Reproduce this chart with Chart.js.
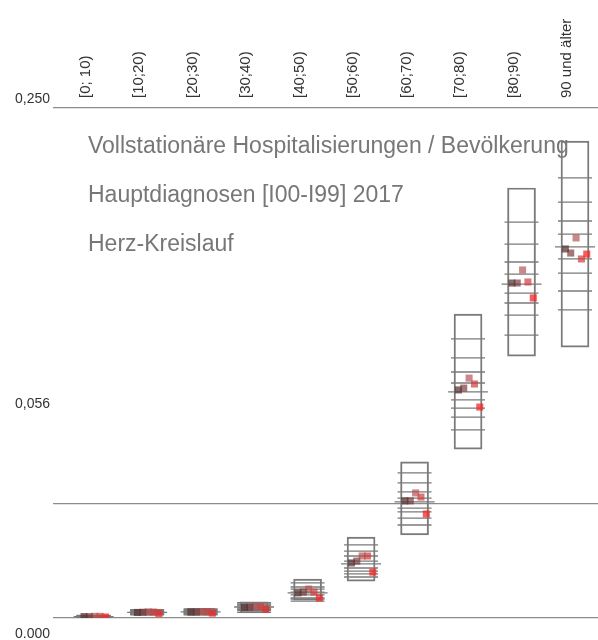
<!DOCTYPE html>
<html>
<head>
<meta charset="utf-8">
<script src="https://cdn.jsdelivr.net/npm/chart.js@4.4.1/dist/chart.umd.min.js"></script>
<style>
  html, body { margin: 0; padding: 0; background: #fff; overflow: hidden; }
  #wrap { width: 598px; height: 640px; position: relative; }
  #chart { display: block; }
</style>
</head>
<body>
<div id="wrap"><canvas id="chart"></canvas></div>
<script>
// Altersgruppen (Kategorien)
const kategorien = ['[0; 10)', '[10;20)', '[20;30)', '[30;40)', '[40;50)', '[50;60)', '[60;70)', '[70;80)', '[80;90)', '90 und älter'];

// Kasten: unterer und oberer Rand je Altersgruppe
const boxUnten = [0.0002, 0.0014, 0.0014, 0.0025, 0.0088, 0.0181, 0.0407, 0.0828, 0.1284, 0.1328];
const boxOben  = [0.0014, 0.0044, 0.0048, 0.0079, 0.0191, 0.0397, 0.0765, 0.1490, 0.2108, 0.2338];

// Querstriche im Kasten (9 je Altersgruppe)
const linienJeGruppe = [
    [0.0013, 0.0011, 0.0010, 0.0009, 0.0007, 0.0006, 0.0005, 0.0004, 0.0003],
    [0.0041, 0.0037, 0.0034, 0.0031, 0.0028, 0.0025, 0.0022, 0.0019, 0.0016],
    [0.0045, 0.0041, 0.0037, 0.0033, 0.0030, 0.0027, 0.0024, 0.0020, 0.0016],
    [0.0075, 0.0069, 0.0064, 0.0059, 0.0054, 0.0049, 0.0043, 0.0036, 0.0028],
    [0.0172, 0.0152, 0.0142, 0.0127, 0.0123, 0.0113, 0.0098, 0.0093, 0.0083],
    [0.0358, 0.0328, 0.0304, 0.0279, 0.0265, 0.0245, 0.0230, 0.0216, 0.0201],
    [0.0711, 0.0662, 0.0618, 0.0588, 0.0569, 0.0539, 0.0520, 0.0490, 0.0456],
    [0.1368, 0.1275, 0.1206, 0.1152, 0.1108, 0.1069, 0.1029, 0.0985, 0.0922],
    [0.1941, 0.1833, 0.1745, 0.1686, 0.1637, 0.1593, 0.1544, 0.1485, 0.1387],
    [0.2157, 0.2039, 0.1946, 0.1882, 0.1819, 0.1760, 0.1691, 0.1603, 0.1510]
];

// Punkte (5 Reihen, dunkel -> rot)
const reihe1 = [0.0007, 0.0027, 0.0029, 0.0052, 0.0123, 0.0270, 0.0574, 0.1118, 0.1642, 0.1809];
const reihe2 = [0.0007, 0.0028, 0.0029, 0.0053, 0.0127, 0.0279, 0.0574, 0.1127, 0.1642, 0.1789];
const reihe3 = [0.0008, 0.0030, 0.0031, 0.0056, 0.0142, 0.0304, 0.0613, 0.1176, 0.1706, 0.1863];
const reihe4 = [0.0008, 0.0029, 0.0030, 0.0055, 0.0127, 0.0304, 0.0593, 0.1147, 0.1647, 0.1760];
const reihe5 = [0.0005, 0.0022, 0.0024, 0.0044, 0.0098, 0.0225, 0.0510, 0.1034, 0.1569, 0.1784];
const reihen = [reihe1, reihe2, reihe3, reihe4, reihe5];
const reihenVersatz = [-0.18, -0.08, 0.02, 0.12, 0.22]; // seitlich versetzt innerhalb der Gruppe
const reihenFarben = ['rgba(85,50,50,0.72)', 'rgba(120,55,55,0.68)', 'rgba(180,80,80,0.68)', 'rgba(210,60,60,0.7)', 'rgba(240,40,40,0.75)'];

// y-Achse
const yTicks = [0, 0.056, 0.25];
const yTickLabels = ['0.000', '0,056', '0,250'];
const yLabelVersatz = [16, -100, -9]; // Beschriftung sitzt im Original neben der Linie

const titelZeilen = ['Vollstationäre Hospitalisierungen / Bevölkerung', 'Hauptdiagnosen [I00-I99] 2017', 'Herz-Kreislauf'];

const datasets = [];

// Kästen als schwebende Balken
datasets.push({
    type: 'bar',
    data: kategorien.map((k, i) => ({ x: i, y: [boxUnten[i], boxOben[i]] })),
    backgroundColor: 'rgba(0,0,0,0)',
    borderColor: '#7a7a7a',
    borderWidth: 1.3,
    borderSkipped: false,
    barThickness: 28,
    grouped: false,
    order: 3
});

// Querstriche
for (let j = 0; j < 9; j++) {
    datasets.push({
        type: 'scatter',
        data: kategorien.map((k, i) => ({ x: i, y: linienJeGruppe[i][j] })),
        pointStyle: 'line',
        pointRadius: j === 4 ? 20 : 17,
        pointBorderColor: '#7a7a7a',
        pointBorderWidth: 1.3,
        order: 2
    });
}

// Punkte
reihen.forEach((r, s) => {
    datasets.push({
        type: 'scatter',
        data: r.map((v, i) => ({ x: i + reihenVersatz[s], y: v })),
        pointStyle: 'rect',
        pointRadius: 5,
        pointBorderWidth: 0,
        pointBackgroundColor: reihenFarben[s],
        order: 1
    });
});

const beschriftung = {
    id: 'beschriftung',
    beforeDatasetsDraw(chart) {
        const { ctx, chartArea } = chart;
        ctx.save();
        ctx.font = '23px "Liberation Sans", Arial, sans-serif';
        ctx.fillStyle = '#777777';
        ctx.textAlign = 'left';
        ctx.textBaseline = 'middle';
        titelZeilen.forEach((t, i) => ctx.fillText(t, chartArea.left + 35, chartArea.top + 39 + i * 49));
        ctx.restore();
    },
    afterDraw(chart) {
        const { ctx, chartArea, scales: { y } } = chart;
        ctx.save();
        ctx.font = '14px "Liberation Sans", Arial, sans-serif';
        ctx.fillStyle = '#333333';
        ctx.textAlign = 'right';
        ctx.textBaseline = 'middle';
        yTicks.forEach((v, i) => ctx.fillText(yTickLabels[i], chartArea.left - 3, y.getPixelForValue(v) + yLabelVersatz[i]));
        ctx.restore();
    }
};

const config = {
    type: 'scatter',
    data: { datasets },
    options: {
        responsive: true,
        maintainAspectRatio: false,
        animation: false,
        events: [],
        layout: { autoPadding: false, padding: { left: 53, right: 0, top: 0, bottom: 22 } },
        plugins: { legend: { display: false }, tooltip: { enabled: false } },
        scales: {
            x: {
                type: 'linear',
                position: 'top',
                min: -0.76,
                max: 9.43,
                offset: false,
                afterBuildTicks: s => { s.ticks = kategorien.map((k, i) => ({ value: i })); },
                afterFit: s => { s.height = 108; s.paddingLeft = 0; s.paddingRight = 0; },
                grid: { display: false },
                border: { display: false },
                ticks: {
                    autoSkip: false,
                    minRotation: 90,
                    maxRotation: 90,
                    padding: 2,
                    labelOffset: 10,
                    color: '#333333',
                    font: { family: '"Liberation Sans", Arial, sans-serif', size: 15 },
                    callback: v => kategorien[v]
                }
            },
            y: {
                type: 'linear',
                min: 0,
                max: 0.25,
                afterBuildTicks: s => { s.ticks = yTicks.map(v => ({ value: v })); },
                afterFit: s => { s.width = 0; s.paddingTop = 0; s.paddingBottom = 0; },
                grid: { color: '#8c8c8c', lineWidth: 1.2, drawTicks: false },
                border: { display: false },
                ticks: { display: false }
            }
        }
    },
    plugins: [beschriftung]
};

const myChart = new Chart(document.getElementById('chart'), config);
</script>
</body>
</html>
